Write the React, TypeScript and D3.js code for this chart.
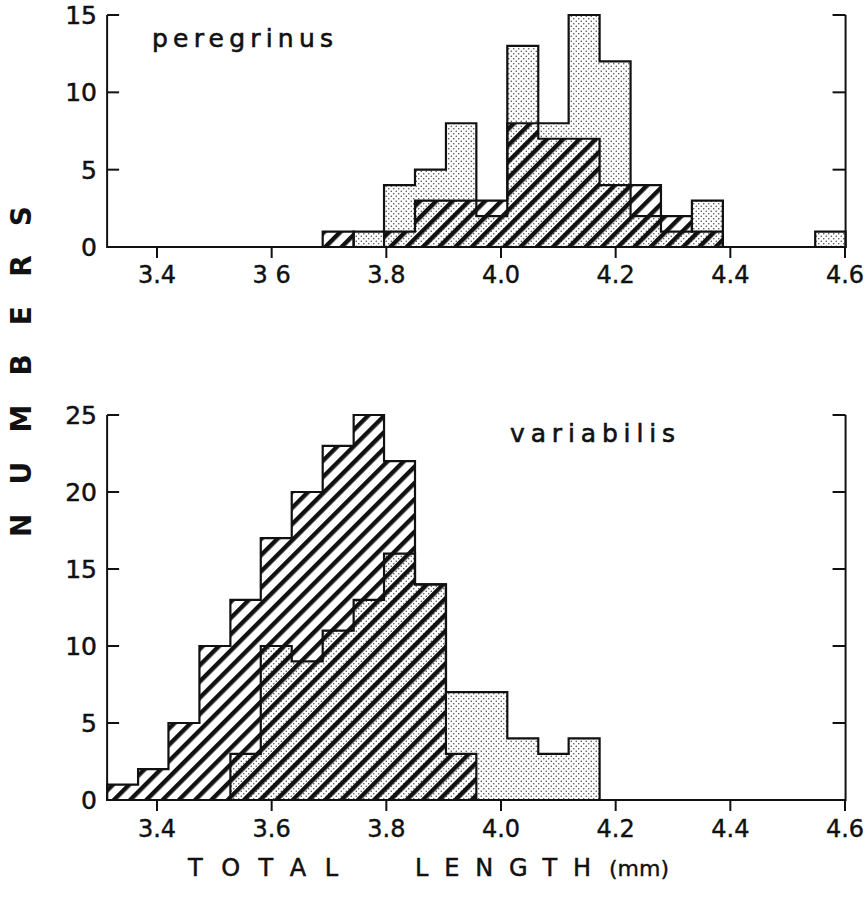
import React from "react";
import * as d3 from "d3";

// Bin edges of total length (mm), shared by both panels
const binEdges = [
  3.313, 3.367, 3.42, 3.474, 3.528, 3.581, 3.635, 3.689, 3.743, 3.796, 3.85, 3.904, 3.957,
  4.011, 4.065, 4.118, 4.172, 4.226, 4.279, 4.333, 4.387, 4.44, 4.494, 4.548, 4.601,
];

// Counts per bin (hatched and stippled samples)
const peregrinusHatched = [0, 0, 0, 0, 0, 0, 0, 1, 0, 1, 3, 3, 3, 8, 7, 7, 4, 4, 2, 1, 0, 0, 0, 0];
const peregrinusStippled = [0, 0, 0, 0, 0, 0, 0, 0, 1, 4, 5, 8, 2, 13, 8, 15, 12, 2, 1, 3, 0, 0, 0, 1];
const variabilisHatched = [1, 2, 5, 10, 13, 17, 20, 23, 25, 22, 14, 3, 0, 0, 0, 0, 0, 0, 0, 0, 0, 0, 0, 0];
const variabilisStippled = [0, 0, 0, 0, 3, 10, 9, 11, 13, 16, 14, 7, 7, 4, 3, 4, 0, 0, 0, 0, 0, 0, 0, 0];

const xTicks = [3.4, 3.6, 3.8, 4.0, 4.2, 4.4, 4.6];
const topXTickLabels = ["3.4", "3 6", "3.8", "4.0", "4.2", "4.4", "4.6"];
const bottomXTickLabels = ["3.4", "3.6", "3.8", "4.0", "4.2", "4.4", "4.6"];
const peregrinusYTicks = [0, 5, 10, 15];
const variabilisYTicks = [0, 5, 10, 15, 20, 25];

const FONT = "'DejaVu Sans', sans-serif";
const INK = "#111";

const x = d3.scaleLinear().domain([3.4, 4.6]).range([157, 845]);
const xLeft = x(binEdges[0]);
const xRight = x(binEdges[binEdges.length - 1]);

type Run = { start: number; end: number };

function runsOf(counts: number[]): Run[] {
  const runs: Run[] = [];
  let s = -1;
  counts.forEach((c, i) => {
    if (c > 0 && s < 0) s = i;
    if ((c === 0 || i === counts.length - 1) && s >= 0) {
      runs.push({ start: s, end: c === 0 ? i - 1 : i });
      s = -1;
    }
  });
  return runs;
}

function stepPaths(counts: number[], y: d3.ScaleLinear<number, number>): string[] {
  const line = d3.line<[number, number]>();
  return runsOf(counts).map(({ start, end }) => {
    const pts: [number, number][] = [[x(binEdges[start]), y(0)]];
    for (let i = start; i <= end; i++) {
      pts.push([x(binEdges[i]), y(counts[i])]);
      pts.push([x(binEdges[i + 1]), y(counts[i])]);
    }
    pts.push([x(binEdges[end + 1]), y(0)]);
    return line(pts) + "Z";
  });
}

type PanelProps = {
  hatched: number[];
  stippled: number[];
  yMax: number;
  yTicks: number[];
  yTop: number;
  yBottom: number;
  tickLabels: string[];
  labelBaseline: number;
};

function Panel({ hatched, stippled, yMax, yTicks, yTop, yBottom, tickLabels, labelBaseline }: PanelProps) {
  const y = d3.scaleLinear().domain([0, yMax]).range([yBottom, yTop]);
  const stip = stepPaths(stippled, y);
  const hat = stepPaths(hatched, y);
  return (
    <g>
      {stip.map((d, i) => (
        <path key={"sf" + i} d={d} fill="url(#stipple)" stroke="none" />
      ))}
      {hat.map((d, i) => (
        <path key={"hf" + i} d={d} fill="url(#hatch)" stroke="none" />
      ))}
      {stip.map((d, i) => (
        <path key={"so" + i} d={d} fill="none" stroke={INK} strokeWidth={2.2} />
      ))}
      {hat.map((d, i) => (
        <path key={"ho" + i} d={d} fill="none" stroke={INK} strokeWidth={2.2} />
      ))}
      {/* frame: left, right and base lines */}
      <path
        d={`M${xLeft},${y(yMax)}V${y(0)}H${xRight}V${y(yMax)}`}
        fill="none"
        stroke={INK}
        strokeWidth={2}
      />
      {yTicks
        .filter((t) => t > 0)
        .map((t) => (
          <g key={"yt" + t}>
            <line x1={xLeft} x2={xLeft + 12} y1={y(t)} y2={y(t)} stroke={INK} strokeWidth={2} />
            <line x1={xRight} x2={xRight - 13} y1={y(t)} y2={y(t)} stroke={INK} strokeWidth={2} />
          </g>
        ))}
      {yTicks.map((t) => (
        <text
          key={"yl" + t}
          x={97}
          y={y(t)}
          dy="0.36em"
          textAnchor="end"
          fontFamily={FONT}
          fontSize={25}
          fill={INK}
          stroke={INK}
          strokeWidth={0.5}
        >
          {t}
        </text>
      ))}
      {xTicks.map((t, i) => (
        <g key={"xt" + t}>
          <line x1={x(t)} x2={x(t)} y1={y(0)} y2={y(0) + 11} stroke={INK} strokeWidth={2} />
          <text
            x={x(t)}
            y={labelBaseline}
            textAnchor="middle"
            fontFamily={FONT}
            fontSize={24}
            fill={INK}
            stroke={INK}
            strokeWidth={0.4}
          >
            {tickLabels[i]}
          </text>
        </g>
      ))}
    </g>
  );
}

export default function App() {
  return (
    <svg
      width={868}
      height={911}
      style={{ position: "absolute", left: 0, top: 0, background: "#fff" }}
    >
      <defs>
        <pattern id="stipple" patternUnits="userSpaceOnUse" width={5} height={5}>
          <rect width={5} height={5} fill="#fff" />
          <circle cx={1.25} cy={1.25} r={0.75} fill="#444" />
          <circle cx={3.75} cy={3.75} r={0.75} fill="#444" />
        </pattern>
        <pattern
          id="hatch"
          patternUnits="userSpaceOnUse"
          width={11.5}
          height={11.5}
          patternTransform="rotate(45)"
        >
          <rect x={0} y={0} width={4.4} height={11.5} fill={INK} />
        </pattern>
      </defs>

      <Panel
        hatched={peregrinusHatched}
        stippled={peregrinusStippled}
        yMax={15}
        yTicks={peregrinusYTicks}
        yTop={15}
        yBottom={247}
        tickLabels={topXTickLabels}
        labelBaseline={283}
      />
      <Panel
        hatched={variabilisHatched}
        stippled={variabilisStippled}
        yMax={25}
        yTicks={variabilisYTicks}
        yTop={415}
        yBottom={800}
        tickLabels={bottomXTickLabels}
        labelBaseline={837}
      />

      <text
        x={152}
        y={47}
        fontFamily={FONT}
        fontSize={25}
        textLength={181}
        lengthAdjust="spacing"
        fill={INK}
        stroke={INK}
        strokeWidth={0.6}
      >
        peregrinus
      </text>
      <text
        x={510}
        y={442}
        fontFamily={FONT}
        fontSize={25}
        textLength={165}
        lengthAdjust="spacing"
        fill={INK}
        stroke={INK}
        strokeWidth={0.6}
      >
        variabilis
      </text>

      <text
        transform="translate(31,537) rotate(-90)"
        fontFamily={FONT}
        fontSize={28}
        fontWeight="bold"
        textLength={331}
        lengthAdjust="spacing"
        fill={INK}
      >
        NUMBERS
      </text>

      <text
        x={188}
        y={876}
        fontFamily={FONT}
        fontSize={24}
        textLength={150}
        lengthAdjust="spacing"
        fill={INK}
        stroke={INK}
        strokeWidth={0.5}
      >
        TOTAL
      </text>
      <text
        x={415}
        y={876}
        fontFamily={FONT}
        fontSize={24}
        textLength={176}
        lengthAdjust="spacing"
        fill={INK}
        stroke={INK}
        strokeWidth={0.5}
      >
        LENGTH
      </text>
      <text x={609} y={876} fontFamily={FONT} fontSize={22} fill={INK} stroke={INK} strokeWidth={0.4}>
        (mm)
      </text>
    </svg>
  );
}
